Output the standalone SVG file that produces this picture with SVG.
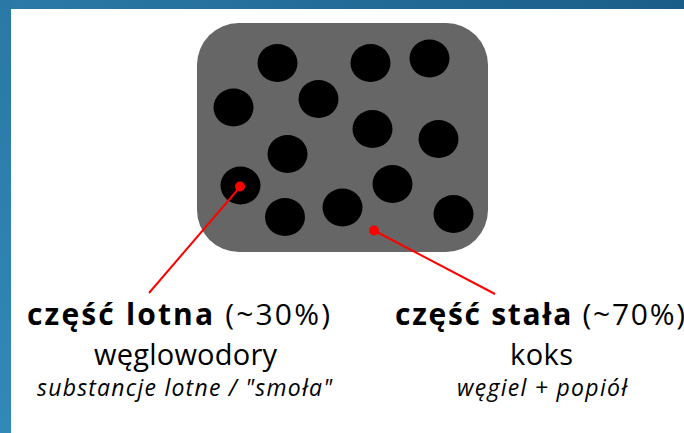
<svg xmlns="http://www.w3.org/2000/svg" width="684" height="433" viewBox="0 0 684 433">
  <defs>
    <linearGradient id="bandTop" x1="0" y1="0" x2="1" y2="0">
      <stop offset="0" stop-color="#2b7aa7"/>
      <stop offset="1" stop-color="#1b5d89"/>
    </linearGradient>
    <linearGradient id="bandLeft" x1="0" y1="0" x2="0" y2="1">
      <stop offset="0" stop-color="#2a78a5"/>
      <stop offset="1" stop-color="#3189b8"/>
    </linearGradient>
  </defs>
  <style>
    .grain { fill: #000000; }
    .lead { stroke: #ff0000; stroke-width: 2; fill: none; }
    .dot { fill: #ff0000; }
    text { font-family: "Open Sans", "Lato", "DejaVu Sans", sans-serif; fill: #000000; text-anchor: middle; }
    .head { font-size: 30px; }
    .head .b { font-weight: bold; }
    .sub { font-size: 29px; }
    .note { font-size: 23px; font-style: italic; }
  </style>

  <!-- page background and slide frame -->
  <rect x="0" y="0" width="684" height="433" fill="#ffffff"/>
  <rect x="0" y="0" width="684" height="9" fill="url(#bandTop)"/>
  <rect x="0" y="0" width="11" height="433" fill="url(#bandLeft)"/>

  <!-- coal grain cross-section -->
  <g id="grain-body">
    <rect x="197" y="23" width="291" height="229" rx="42" ry="42" fill="#666666"/>
    <ellipse class="grain" cx="277.5" cy="63" rx="20" ry="19"/>
    <ellipse class="grain" cx="370.5" cy="63" rx="20" ry="19"/>
    <ellipse class="grain" cx="429.5" cy="58.5" rx="20" ry="19"/>
    <ellipse class="grain" cx="233.5" cy="107.5" rx="20" ry="19"/>
    <ellipse class="grain" cx="318.5" cy="99" rx="20" ry="19"/>
    <ellipse class="grain" cx="372.5" cy="129" rx="20" ry="19"/>
    <ellipse class="grain" cx="438.5" cy="139" rx="20" ry="19"/>
    <ellipse class="grain" cx="287.5" cy="154" rx="20" ry="19"/>
    <ellipse class="grain" cx="240.5" cy="185.5" rx="20" ry="19"/>
    <ellipse class="grain" cx="392.5" cy="184" rx="20" ry="19"/>
    <ellipse class="grain" cx="285" cy="217" rx="20" ry="19"/>
    <ellipse class="grain" cx="342.5" cy="207.5" rx="20" ry="19"/>
    <ellipse class="grain" cx="453.5" cy="214" rx="20" ry="19"/>
  </g>

  <!-- leader lines -->
  <g id="connectors">
    <line class="lead" x1="240" y1="187" x2="149" y2="293"/>
    <circle class="dot" cx="240" cy="186.5" r="5"/>
    <line class="lead" x1="374" y1="230.5" x2="495" y2="294"/>
    <circle class="dot" cx="374" cy="230.5" r="5"/>
  </g>

  <!-- volatile fraction label -->
  <g id="label-volatile">
    <text class="head" x="178.5" y="325" textLength="303" lengthAdjust="spacing"><tspan class="b">część lotna</tspan> (~30%)</text>
    <text class="sub" x="185.5" y="365" textLength="183" lengthAdjust="spacing">węglowodory</text>
    <text class="note" x="184.5" y="396" textLength="295" lengthAdjust="spacing">substancje lotne / "smoła"</text>
  </g>

  <!-- solid fraction label -->
  <g id="label-solid">
    <text class="head" x="540" y="325" textLength="290" lengthAdjust="spacing"><tspan class="b">część stała</tspan> (~70%)</text>
    <text class="sub" x="541.5" y="365" textLength="63" lengthAdjust="spacing">koks</text>
    <text class="note" x="542" y="396" textLength="170" lengthAdjust="spacing">węgiel + popiół</text>
  </g>
</svg>
